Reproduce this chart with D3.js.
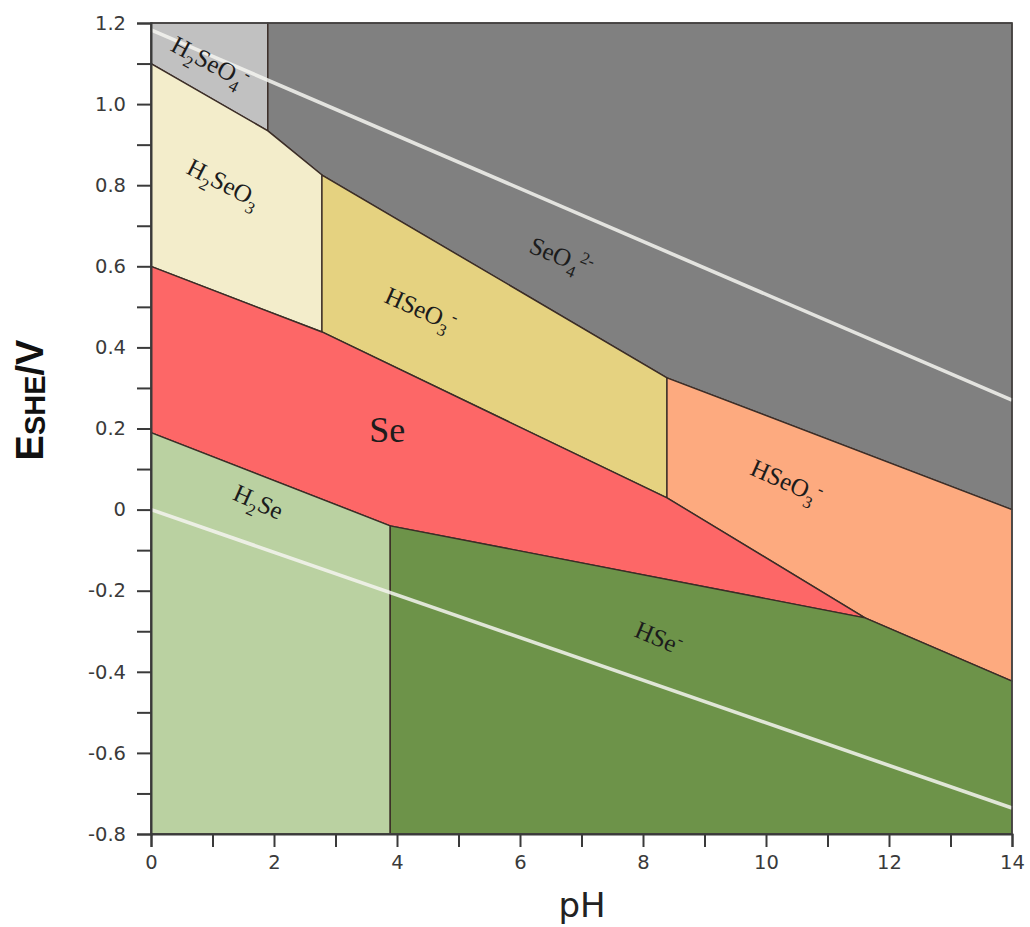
<!DOCTYPE html>
<html>
<head>
<meta charset="utf-8">
<script src="https://cdn.jsdelivr.net/npm/d3@7"></script>
<style>
  body { margin: 0; background: #fff; }
  svg { display: block; }
</style>
</head>
<body>
<div id="chart"></div>
<script>
// Pourbaix diagram data (pH, E vs SHE in V)
const phDomain = [0, 14];
const eDomain = [-0.8, 1.2];
const xTickValues = [0, 1, 2, 3, 4, 5, 6, 7, 8, 9, 10, 11, 12, 13, 14];
const yTickValues = d3.range(-8, 13).map(d => d / 10);

// region outlines, vertices as [pH, E]
const regionNames = ["H2SeO4", "SeO4", "H2SeO3", "HSeO3", "SeO3", "Se", "H2Se", "HSe"];
const h2seo4Poly = [[0, 1.2], [1.9, 1.2], [1.9, 0.934], [0, 1.10]];
const seo4Poly = [[1.9, 1.2], [14, 1.2], [14, 0.0], [8.39, 0.325], [2.78, 0.825], [1.9, 0.934]];
const h2seo3Poly = [[0, 1.10], [1.9, 0.934], [2.78, 0.825], [2.78, 0.438], [0, 0.60]];
const hseo3Poly = [[2.78, 0.825], [8.39, 0.325], [8.39, 0.029], [2.78, 0.438]];
const seo3Poly = [[8.39, 0.325], [14, 0.0], [14, -0.423], [11.61, -0.267], [8.39, 0.029]];
const sePoly = [[0, 0.60], [2.78, 0.438], [8.39, 0.029], [11.61, -0.267], [3.89, -0.04], [0, 0.19]];
const h2sePoly = [[0, 0.19], [3.89, -0.04], [3.89, -0.8], [0, -0.8]];
const hsePoly = [[3.89, -0.04], [11.61, -0.267], [14, -0.423], [14, -0.8], [3.89, -0.8]];

// water stability lines
const upperWater = [[0, 1.183], [14, 0.27]];
const lowerWater = [[0, 0.0], [14, -0.736]];

// species labels: parts [text, kind], anchor [pH, E]
const labelParts = [
  [["H"], ["2", "sub"], ["SeO"], ["4", "sub"], ["-", "sup"]],
  [["H"], ["2", "sub"], ["SeO"], ["3", "sub"]],
  [["SeO"], ["4", "sub"], ["2-", "sup"]],
  [["HSeO"], ["3", "sub"], ["-", "sup"]],
  [["HSeO"], ["3", "sub"], ["-", "sup"]],
  [["Se"]],
  [["H"], ["2", "sub"], ["Se"]],
  [["HSe"], ["-", "sup"]]
];
const labelAt = [[0.9, 1.085], [1.12, 0.787], [6.62, 0.605], [4.33, 0.475], [10.28, 0.05], [3.84, 0.167], [1.69, 0.0], [8.2, -0.335]];

const regionColors = {
  H2SeO4: "#c1c1c1", SeO4: "#808080", H2SeO3: "#f3edcb", HSeO3: "#e5d280",
  SeO3: "#fdaa7f", Se: "#fd6767", H2Se: "#bad1a1", HSe: "#6d9349"
};
const labelRot = [28, 27, 22, 24, 24, 0, 24, 23];
const labelSize = [25, 25, 25, 25, 25, 36, 25, 25];

const width = 1030, height = 927;
const margin = { top: 23, right: 18, bottom: 93, left: 151 };

const svg = d3.select("#chart").append("svg")
  .attr("width", width)
  .attr("height", height);

const x = d3.scaleLinear().domain(phDomain).range([margin.left, width - margin.right]);
const y = d3.scaleLinear().domain(eDomain).range([height - margin.bottom, margin.top]);

const polys = [h2seo4Poly, seo4Poly, h2seo3Poly, hseo3Poly, seo3Poly, sePoly, h2sePoly, hsePoly];
const line = d3.line().x(d => x(d[0])).y(d => y(d[1]));

// filled regions
svg.append("g")
  .selectAll("path")
  .data(polys)
  .join("path")
  .attr("d", d => line(d) + "Z")
  .attr("fill", (d, i) => regionColors[regionNames[i]])
  .attr("stroke", "#3b2d27")
  .attr("stroke-width", 1.4)
  .attr("stroke-linejoin", "round");

// water lines
svg.append("g")
  .selectAll("path")
  .data([upperWater, lowerWater])
  .join("path")
  .attr("d", line)
  .attr("fill", "none")
  .attr("stroke", "#f4f4f0")
  .attr("stroke-width", 3.6)
  .attr("stroke-opacity", 0.85);

// species labels
const labels = svg.append("g")
  .attr("font-family", "'Liberation Serif', 'Times New Roman', serif")
  .attr("fill", "#1c1c1c");

labelParts.forEach((parts, i) => {
  const size = labelSize[i];
  const t = labels.append("text")
    .attr("transform", `translate(${x(labelAt[i][0])},${y(labelAt[i][1])}) rotate(${labelRot[i]})`)
    .attr("text-anchor", "middle")
    .attr("dy", "0.35em")
    .attr("font-size", size);
  let shift = 0;
  parts.forEach(([txt, kind]) => {
    let target = kind === "sub" ? size * 0.3 : kind === "sup" ? -size * 0.4 : 0;
    t.append("tspan")
      .attr("dy", target - shift)
      .attr("font-size", kind ? size * 0.68 : size)
      .text(txt);
    shift = target;
  });
});

// frame
svg.append("rect")
  .attr("x", x(0)).attr("y", y(1.2))
  .attr("width", x(14) - x(0)).attr("height", y(-0.8) - y(1.2))
  .attr("fill", "none")
  .attr("stroke", "#444")
  .attr("stroke-width", 1.5);

// axes
const xAxis = svg.append("g")
  .attr("transform", `translate(0,${y(-0.8)})`)
  .call(d3.axisBottom(x)
    .tickValues(xTickValues)
    .tickSize(13)
    .tickPadding(8)
    .tickFormat(d => d % 2 === 0 ? d : ""));

const yAxis = svg.append("g")
  .attr("transform", `translate(${x(0)},0)`)
  .call(d3.axisLeft(y)
    .tickValues(yTickValues)
    .tickSize(14)
    .tickPadding(11)
    .tickFormat(d => {
      const k = Math.round(d * 10);
      if (k % 2 !== 0) return "";
      return k === 0 ? "0" : d.toFixed(1);
    }));

[xAxis, yAxis].forEach(g => {
  g.select(".domain").attr("stroke", "#3a3a3a").attr("stroke-width", 2);
  g.selectAll(".tick line").attr("stroke", "#3a3a3a").attr("stroke-width", 2);
  g.selectAll(".tick text")
    .attr("fill", "#3a3a3a")
    .attr("font-family", "'DejaVu Sans', sans-serif")
    .attr("font-size", 19.5);
});

// axis titles
svg.append("text")
  .attr("x", 582)
  .attr("y", 917)
  .attr("text-anchor", "middle")
  .attr("font-family", "'DejaVu Sans', sans-serif")
  .attr("font-size", 34)
  .attr("fill", "#222")
  .text("pH");

const yTitle = svg.append("text")
  .attr("transform", "translate(43,400) rotate(-90)")
  .attr("text-anchor", "middle")
  .attr("font-family", "'Liberation Sans', Arial, sans-serif")
  .attr("font-weight", "bold")
  .attr("fill", "#111");
yTitle.append("tspan").attr("font-size", 38).text("E");
yTitle.append("tspan").attr("font-size", 29).attr("dy", 2).text("SHE");
yTitle.append("tspan").attr("font-size", 38).attr("dy", -2).text("/V");
</script>
</body>
</html>
